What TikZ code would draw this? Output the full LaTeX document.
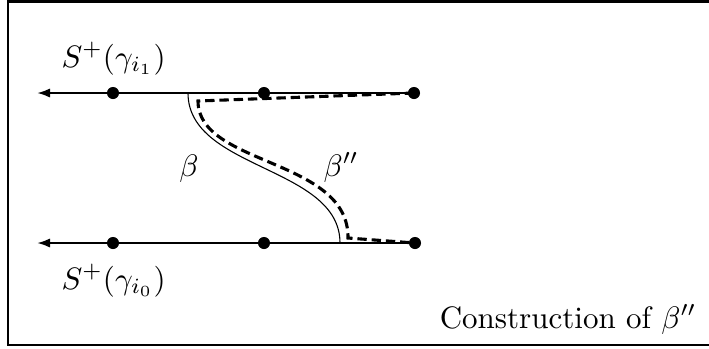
\documentclass[tikz,border=0pt]{standalone}
\usetikzlibrary{arrows.meta}
\begin{document}
\begin{tikzpicture}[x=0.3226pt,y=-0.3226pt,
  dot/.style={circle,fill=black,inner sep=0pt,minimum size=3.9pt},
  axis/.style={line width=0.75pt,-{Latex[length=4.2pt,width=3pt]}},
  lab/.style={inner sep=0pt},
  dashcurve/.style={line width=1pt,dash pattern=on 3pt off 1.6pt},
  thin curve/.style={line width=0.35pt}]
\useasboundingbox (0,0) rectangle (709,348);
\draw[line width=0.85pt] (709,1.3) -- (8,1.3) -- (8,345) -- (709,345);
% top axis
\node[dot] (t1) at (113,93) {};
\node[dot] (t2) at (264,93) {};
\node[dot] (t3) at (414,93) {};
\coordinate (tl) at (37,93);
\draw[axis] (t3.center) -- (tl);
% bottom axis
\node[dot] (b1) at (113,243) {};
\node[dot] (b2) at (264,243) {};
\node[dot] (b3) at (415,243) {};
\coordinate (bl) at (37,243);
\draw[axis] (b3.center) -- (bl);
% beta
\coordinate (bs) at (188,93);
\coordinate (be) at (340,243);
\draw[thin curve] (bs) .. controls (188,170) and (340,166) .. (be);
% beta''
\coordinate (d1) at (198,101);
\coordinate (d2) at (348,238);
\draw[dashcurve] (t3.center) -- (d1) .. controls (198,166) and (349,158) .. (d2) -- (b3.center);
% labels
\node[lab,anchor=base west] (la) at (61,67) {$S^{+}(\gamma_{i_1})$};
\node[lab,anchor=base west] (lb) at (61,289) {$S^{+}(\gamma_{i_0})$};
\node[lab,anchor=base] (beta) at (189,176) {$\beta$};
\node[lab,anchor=base west] (betapp) at (323,176) {$\beta''$};
\node[lab,anchor=base east] (cap) at (697,328) {Construction of $\beta''$};
\end{tikzpicture}
\end{document}
